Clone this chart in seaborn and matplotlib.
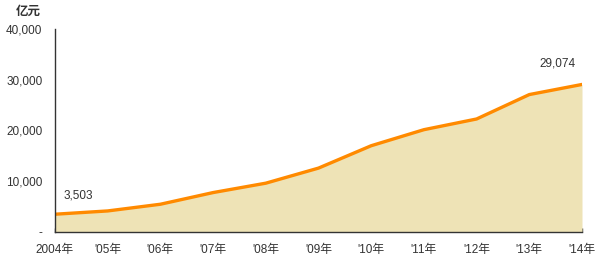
import matplotlib
matplotlib.use("Agg")
import matplotlib.pyplot as plt
import seaborn as sns
import pandas as pd

years = ["2004年", "'05年", "'06年", "'07年", "'08年", "'09年", "'10年", "'11年", "'12年", "'13年", "'14年"]
values = [3503, 4150, 5470, 7770, 9620, 12590, 17000, 20160, 22270, 27080, 29074]
yticks = [0, 10000, 20000, 30000, 40000]
ytick_labels = ["-", "10,000", "20,000", "30,000", "40,000"]

sns.set_theme(style="white")
plt.rcParams['font.family'] = ['Liberation Sans', 'Noto Sans CJK SC', 'DejaVu Sans']

df = pd.DataFrame({"x": range(len(years)), "v": values})

fig = plt.figure(figsize=(6, 2.71), dpi=100)
ax = fig.add_axes([55/600, 1-232/271, (582-55)/600, (232-29)/271])
ax.fill_between(df["x"], df["v"], 0, color="#EEE3B6", linewidth=0)
sns.lineplot(data=df, x="x", y="v", ax=ax, color="#FF8A00", linewidth=2.4)

ax.set_xlim(0, len(years) - 1)
ax.set_ylim(0, 40000)
ax.set_yticks(yticks)
ax.set_yticklabels(ytick_labels, fontsize=8.5, color="#333333")
ax.set_xticks(range(len(years)))
ax.set_xticklabels(years, fontsize=8.5, color="#333333")
ax.tick_params(axis="x", direction="in", length=3, width=1, color="#333333", pad=9, bottom=True)
ax.tick_params(axis="y", length=0, pad=9)
ax.set_xlabel("")
ax.set_ylabel("")
for s in ["top", "right"]:
    ax.spines[s].set_visible(False)
for s in ["left", "bottom"]:
    ax.spines[s].set_color("#333333")
    ax.spines[s].set_linewidth(1)

ax.annotate(f"{values[0]:,}", (0, values[0]), xytext=(6, 9), textcoords="offset points",
            fontsize=8.5, color="#333333", ha="left", va="bottom")
ax.annotate(f"{values[-1]:,}", (len(years)-1, values[-1]), xytext=(-18, 11), textcoords="offset points",
            fontsize=8.5, color="#333333", ha="center", va="bottom")
fig.text(28/600, 1-12/271, "亿元", fontsize=9, color="#333333", ha="center", va="center", fontweight="bold")

fig.savefig("out.png", dpi=100)
